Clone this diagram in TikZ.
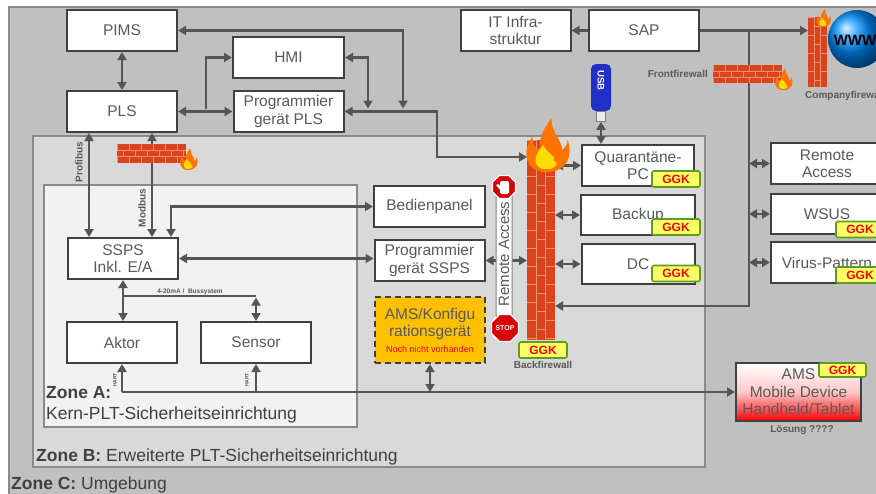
\documentclass[tikz,border=0pt]{standalone}
\usepackage{fontspec}
\setmainfont{Liberation Sans}
\usetikzlibrary{arrows.meta, positioning, shapes.geometric}

\definecolor{zonec}{HTML}{C0C0C0}
\definecolor{zoneb}{HTML}{D9D9D9}
\definecolor{zonea}{HTML}{F2F2F2}
\definecolor{zoneline}{HTML}{8A8A8A}
\definecolor{boxline}{HTML}{404040}
\definecolor{txt}{HTML}{595959}
\definecolor{conline}{HTML}{555555}
\definecolor{brickred}{HTML}{D9441C}
\definecolor{brickjoint}{HTML}{F09070}
\definecolor{ggkgreen}{HTML}{5C9E1E}
\definecolor{ggkyellow}{HTML}{FFFF66}
\definecolor{amsorange}{HTML}{FFC000}
\definecolor{usbblue}{HTML}{1F2FC8}

\tikzset{
  box/.style={draw=boxline, line width=2pt, fill=white, text=txt, align=center,
    minimum width=110, minimum height=41, inner sep=1pt, font=\fontsize{15.5}{17.5}\selectfont},
  ggk/.style={draw=ggkgreen, line width=1.6pt, fill=ggkyellow, rounded corners=2pt,
    minimum width=48, minimum height=16, inner sep=0pt, text=red, font=\bfseries\fontsize{12}{12}\selectfont},
  con/.style={draw=conline, line width=2.5pt},
  arr/.style={con, ->},
  dbl/.style={con, <->},
  note/.style={text=txt, inner sep=0pt, font=\bfseries\fontsize{10}{10}\selectfont},
  tiny/.style={text=txt, inner sep=0pt, font=\bfseries\fontsize{6.5}{6.5}\selectfont},
  zonetxt/.style={anchor=west, text=boxline, inner sep=0pt, font=\fontsize{17.5}{20}\selectfont},
  wallnode/.style={inner sep=0pt, outer sep=0pt},
  mortar/.style={draw=brickjoint, line width=0.7pt},
  stopsign/.style={regular polygon, regular polygon sides=8, minimum size=25, inner sep=0pt,
    fill=red!85!black, draw=white, line width=1.2pt},
  % brick wall lying flat, three rows
  pics/hwall/.style n args={2}{code={
    \fill[brickred] (0,0) rectangle (#1,#2);
    \begin{scope}
      \clip (0,0) rectangle (#1,#2);
      \foreach \r in {0,1,2}
        \foreach \c in {0,12,...,96}
          \draw[mortar] ({\c+6*mod(\r,2)},{\r*#2/3}) -- ++(0,{#2/3});
      \foreach \r in {1,2}
        \draw[mortar] (0,{\r*#2/3}) -- (#1,{\r*#2/3});
    \end{scope}
  }},
  % brick wall standing upright, three columns
  pics/vwall/.style n args={2}{code={
    \fill[brickred] (0,0) rectangle (#1,#2);
    \begin{scope}
      \clip (0,0) rectangle (#1,#2);
      \foreach \j in {0,1,2}
        \foreach \k in {0,18,...,216}
          \draw[mortar] ({\j*#1/3},{\k+9*mod(\j,2)}) -- ++({#1/3},0);
      \foreach \j in {1,2}
        \draw[mortar] ({\j*#1/3},0) -- ({\j*#1/3},#2);
    \end{scope}
  }},
  pics/flame/.style={code={
    \fill[orange!90!red] (0,0) .. controls (-8,0) and (-9,-8) .. (-5,-13)
      .. controls (-5,-9) and (-3,-8) .. (-2,-9)
      .. controls (-3,-13) and (0,-17) .. (2,-20)
      .. controls (2,-14) and (6,-12) .. (6,-8)
      .. controls (7,-9) and (8,-10) .. (8,-12)
      .. controls (10,-6) and (8,0) .. (0,0) -- cycle;
    \fill[yellow!80!orange] (0,-1) .. controls (-5,-1) and (-5,-6) .. (-1,-10)
      .. controls (0,-7) and (4,-6) .. (3,-4)
      .. controls (5,-4) and (4,-1) .. (0,-1) -- cycle;
  }},
}

\begin{document}
\begin{tikzpicture}[x=1pt, y=-1pt, >={Triangle[length=8pt,width=9pt]}]
\useasboundingbox (0,0) rectangle (876,493);
\clip (0,0) rectangle (876,493);

% zones
\filldraw[fill=zonec, draw=zoneline, line width=1.5pt] (9,7) rectangle (890,505);
\filldraw[fill=zoneb, draw=zoneline, line width=2pt] (33,136) rectangle (705,467);
\filldraw[fill=zonea, draw=zoneline, line width=2pt] (44,185) rectangle (357,427);

\node[zonetxt] (za) at (46,393) {\textbf{Zone A:}};
\node[zonetxt] (zak) at (46,415) {Kern-PLT-Sicherheitseinrichtung};
\node[zonetxt] (zb) at (36,457) {\textbf{Zone B:} Erweiterte PLT-Sicherheitseinrichtung};
\node[zonetxt] (zc) at (11,485) {\textbf{Zone C:} Umgebung};

% control level
\node[box] (pims) at (122,30.5) {PIMS};
\node[box, below=38pt of pims] (pls) {PLS};
\node[box, minimum width=111] (hmi) at (288.5,57.5) {HMI};
\node[box, below=11pt of hmi] (progpls) {Programmier\\gerät PLS};
\node[box] (itinfra) at (515.5,30.5) {IT Infra-\\struktur};
\node[box] (sap) at (644,30.5) {SAP};

% behind the backfirewall
\node[box, minimum width=112] (quar) at (638,165.5) {Quarantäne-\\PC};
\node[box, minimum width=114, minimum height=40, below=7pt of quar] (backup) {Backup};
\node[box, minimum width=113, minimum height=40, below=7pt of backup] (dc) {DC};
\node[box, minimum width=111] (bedien) at (429.5,206.5) {Bedienpanel};
\node[box, below=11pt of bedien] (progssps) {Programmier\\gerät SSPS};
\node[box, fill=amsorange, dash pattern=on 6pt off 4pt, minimum height=66] (amskonf) at (430,330)
  {AMS/Konfigu\\rationsgerät\\[-2pt]{\color{red}\fontsize{9}{10}\selectfont Noch nicht vorhanden}};

% safety core
\node[box] (ssps) at (123,258.5) {SSPS\\Inkl. E/A};
\node[box] (aktor) at (122,342.5) {Aktor};
\node[box, right=22pt of aktor] (sensor) {Sensor};

% services
\node[box, minimum width=112] (remacc) at (827,163.5) {Remote\\Access};
\node[box, minimum width=112, minimum height=40, below=8pt of remacc] (wsus) {WSUS};
\node[box, minimum width=112, below=6pt of wsus] (virus) {Virus-Pattern};
\node[box, minimum width=125, minimum height=58, top color=white, bottom color=red, middle color=red!22]
  (amsmob) at (798.5,392) {AMS\\Mobile Device\\Handheld/Tablet};

% firewall places
\node[wallnode, minimum width=28, minimum height=200] (bfw) at (541,240) {};
\node[wallnode, minimum width=19, minimum height=70] (cfw) at (817.5,52) {};
\node[wallnode, minimum width=69, minimum height=19] (mfw) at (151.5,153.5) {};
\node[wallnode, minimum width=69, minimum height=18] (ffw) at (747.5,74) {};

% links
\draw[dbl] (pims.south) -- (pims.south |- pls.north);
\draw[dbl] (pls.east) -- (pls.east -| progpls.west);
\coordinate (jhmi) at (206,109);
\draw[arr] (jhmi) |- (hmi.west);
\coordinate (jpims) at (403,108.5);
\draw[dbl] (pims.east) -| (jpims);
\coordinate (jh) at (368,108.5);
\draw[dbl] (hmi.east) -| (jh);
\coordinate (jbus) at (437,157);
\draw[dbl] (progpls.east) -| (jbus) -- (jbus -| bfw.west);

\draw[arr] (sap) -- (itinfra);
\draw[arr] (sap.east) -- (sap.east -| cfw.west);
\coordinate (jsap) at (749,30.5);
\coordinate (jfw) at (749,306);
\draw[arr] (jsap) -- (jfw) -- (jfw -| bfw.east);
\foreach \n in {remacc,wsus,virus}
  \draw[dbl] (\n.west -| jsap) -- (\n.west);

\node[fill=usbblue, rounded corners=5pt, minimum width=20, minimum height=47, inner sep=0pt] (usb) at (601,87.5) {};
\node[rotate=-90, text=white, font=\bfseries\fontsize{9.5}{10}\selectfont, inner sep=0pt] (usbtxt) at ([yshift=7pt]usb.center) {USB};
\node[fill=gray!15, draw=gray, line width=0.6pt, minimum width=9, minimum height=10, inner sep=0pt, below=0pt of usb] (usbplug) {};
\draw[dbl] (usbplug.south) -- (usbplug.south |- quar.north);

\draw[dbl] (bfw.east |- quar.west) -- (quar.west);
\draw[dbl] (bfw.east |- backup.west) -- (backup.west);
\draw[dbl] (bfw.east |- dc.west) -- (dc.west);
\draw[dbl] (progssps.east) -- (progssps.east -| bfw.west);

\draw[dbl] (bedien.west) -| ([xshift=48pt]ssps.north);
\draw[dbl] (ssps.east) -- (ssps.east -| progssps.west);
\draw[dbl] ([xshift=-33pt]pls.south) -- ([xshift=-33pt]pls.south |- ssps.north);
\draw[dbl] ([xshift=30pt]pls.south) -- ([xshift=30pt]pls.south |- ssps.north);
\draw[dbl] (ssps.south) -- (ssps.south |- aktor.north);
\coordinate (jss) at (123,296);
\coordinate (jsen) at (sensor.north |- jss);
\draw[con] (jss) -- (jsen);
\draw[dbl] ([yshift=-1.5pt]jsen) -- (sensor.north);

\coordinate (jhart) at (aktor.south |- 0,392);
\draw[arr] (jhart) -- (aktor.south);
\draw[arr] (jhart) -- (jhart -| amsmob.west);
\draw[arr] (sensor.south |- jhart) -- (sensor.south);
\draw[dbl] (amskonf.south |- jhart) -- (amskonf.south);

% bus labels
\node[note, rotate=90] (lprofi) at (79,162) {Profibus};
\node[note, rotate=90] (lmod) at (142,208) {Modbus};
\node[tiny] (lbus) at (190,292) {4-20mA /\ \ Bussystem};
\node[tiny, font=\bfseries\fontsize{5}{5}\selectfont, rotate=90] (lhart1) at (115,380) {HART};
\node[tiny, font=\bfseries\fontsize{5}{5}\selectfont, rotate=90] (lhart2) at (247,380) {HART};
\node[note, anchor=east] (lfront) at (708,74) {Frontfirewall};
\node[note] (lback) at (543,365) {Backfirewall};
\node[note, anchor=west] (lcomp) at (805,96) {Companyfirewall};
\node[note] (llos) at (802,430) {Lösung ????};

% internet
\shade[ball color=blue!45!cyan] (857,39) circle (29);
\node[font=\bfseries\fontsize{15}{15}\selectfont, text=black, inner sep=0pt] (www) at (855,40) {WWW};

% firewalls
\pic at (mfw.north west) {hwall={69}{19}};
\pic at (ffw.north west) {hwall={69}{18}};
\pic at (cfw.north west) {vwall={19}{70}};
\pic at (bfw.north west) {vwall={28}{200}};
\pic[scale=1.1] at (188,170) {flame};
\pic[scale=1.1] at (783,90) {flame};
\pic[scale=0.9] at (823,27) {flame};
\pic[scale=2.7] at (546,172) {flame};

% remote access blocked
\node[draw=gray, line width=1pt, fill=white, rounded corners=3pt, rotate=90, minimum width=128,
  minimum height=16, inner sep=0pt, text=txt, font=\fontsize{15}{15}\selectfont] (rabar) at (504,254) {Remote Access};
\node[stopsign] (stoptop) at (504,187) {};
\fill[white, rounded corners=1.5pt] (500,181) rectangle (509,194);
\fill[white] (500,190) -- (496,185) -- (498,184) -- (501,187) -- cycle;
\node[stopsign, text=white, font=\bfseries\fontsize{7}{7}\selectfont] (stopbot) at (505,328) {STOP};

% GGK tags
\node[ggk] (ggkq) at (676,179) {GGK};
\node[ggk] (ggkb) at (676,227) {GGK};
\node[ggk] (ggkd) at (676,273.5) {GGK};
\node[ggk] (ggkf) at (543,350) {GGK};
\node[ggk] (ggkw) at (860,229.5) {GGK};
\node[ggk] (ggkv) at (860,275) {GGK};
\node[ggk, minimum width=47, minimum height=14] (ggka) at (842.5,370) {GGK};
\end{tikzpicture}
\end{document}
